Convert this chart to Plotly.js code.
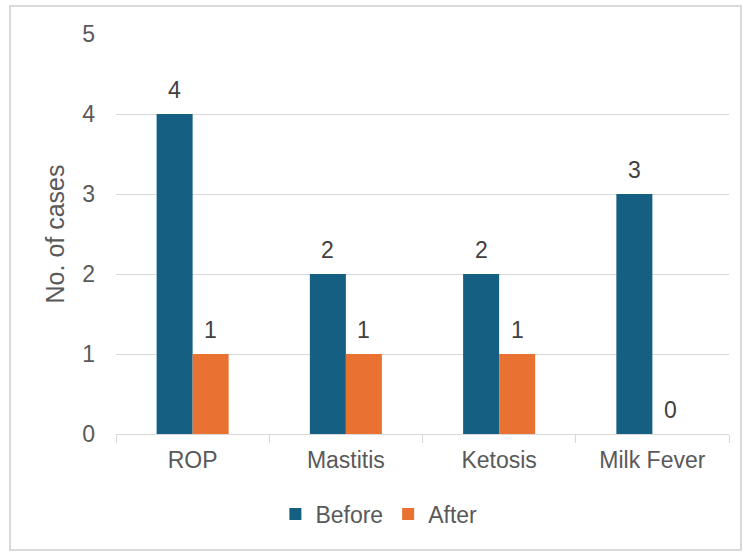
<!DOCTYPE html>
<html>
<head>
<meta charset="utf-8">
<script src="https://cdn.plot.ly/plotly-3.0.1.min.js"></script>
<style>
  html, body { margin: 0; padding: 0; background: #fff; }
  #wrap { position: relative; width: 744px; height: 552px; }
  #chart { position: absolute; left: 0; top: 0; width: 744px; height: 552px; }
  #frame { position: absolute; left: 9px; top: 5px; width: 729px; height: 542px;
           border: 2px solid #d9d9d9; pointer-events: none; }
</style>
</head>
<body>
<div id="wrap">
  <div id="chart"></div>
  <div id="frame"></div>
</div>
<script>
const categories = ["ROP", "Mastitis", "Ketosis", "Milk Fever"];
const beforeValues = [4, 2, 2, 3];
const afterValues = [1, 1, 1, 0];
const seriesNames = ["Before", "After"];
const yTicks = [0, 1, 2, 3, 4, 5];

const blue = "#156082";
const orange = "#E97132";
const font = "Arial, 'Liberation Sans', sans-serif";
const fs = 23;

const traces = [
  { type: "bar", name: seriesNames[0], x: categories, y: beforeValues,
    marker: { color: blue }, hoverinfo: "skip" },
  { type: "bar", name: seriesNames[1], x: categories, y: afterValues,
    marker: { color: orange }, hoverinfo: "skip" }
];

const halfBar = 18;
const annotations = [];
categories.forEach((c, i) => {
  annotations.push({ x: c, y: beforeValues[i], text: String(beforeValues[i]), showarrow: false,
    xshift: -halfBar, yshift: 24, yanchor: "middle", font: { family: font, size: fs, color: "#404040" } });
  annotations.push({ x: c, y: afterValues[i], text: String(afterValues[i]), showarrow: false,
    xshift: halfBar, yshift: 24, yanchor: "middle", font: { family: font, size: fs, color: "#404040" } });
});

const layout = {
  width: 744, height: 552,
  margin: { l: 116, r: 15, t: 34, b: 118 },
  paper_bgcolor: "#ffffff", plot_bgcolor: "#ffffff",
  font: { family: font, size: fs, color: "#595959" },
  barmode: "group",
  bargap: 0.53, bargroupgap: 0,
  showlegend: true,
  legend: { orientation: "h", x: 0.26, xanchor: "left", y: -0.2, yanchor: "middle",
            font: { family: font, size: fs, color: "#595959" }, itemwidth: 30 },
  xaxis: {
    type: "category", tickson: "boundaries", ticks: "outside", ticklen: 8,
    tickcolor: "#d9d9d9", tickwidth: 1, showline: true, linecolor: "#d9d9d9", linewidth: 1,
    showgrid: false, ticklabelstandoff: 5,
    tickfont: { family: font, size: fs, color: "#595959" }
  },
  yaxis: {
    range: [0, 5], tickvals: yTicks, showgrid: true, gridcolor: "#d9d9d9", gridwidth: 1,
    zeroline: false, showline: false, ticks: "", ticklabelstandoff: 20,
    tickfont: { family: font, size: fs, color: "#595959" },
    title: { text: "No. of cases", standoff: 10, font: { family: font, size: 25, color: "#595959" } }
  },
  annotations: annotations
};

Plotly.newPlot("chart", traces, layout, { displayModeBar: false, staticPlot: true });
</script>
</body>
</html>
